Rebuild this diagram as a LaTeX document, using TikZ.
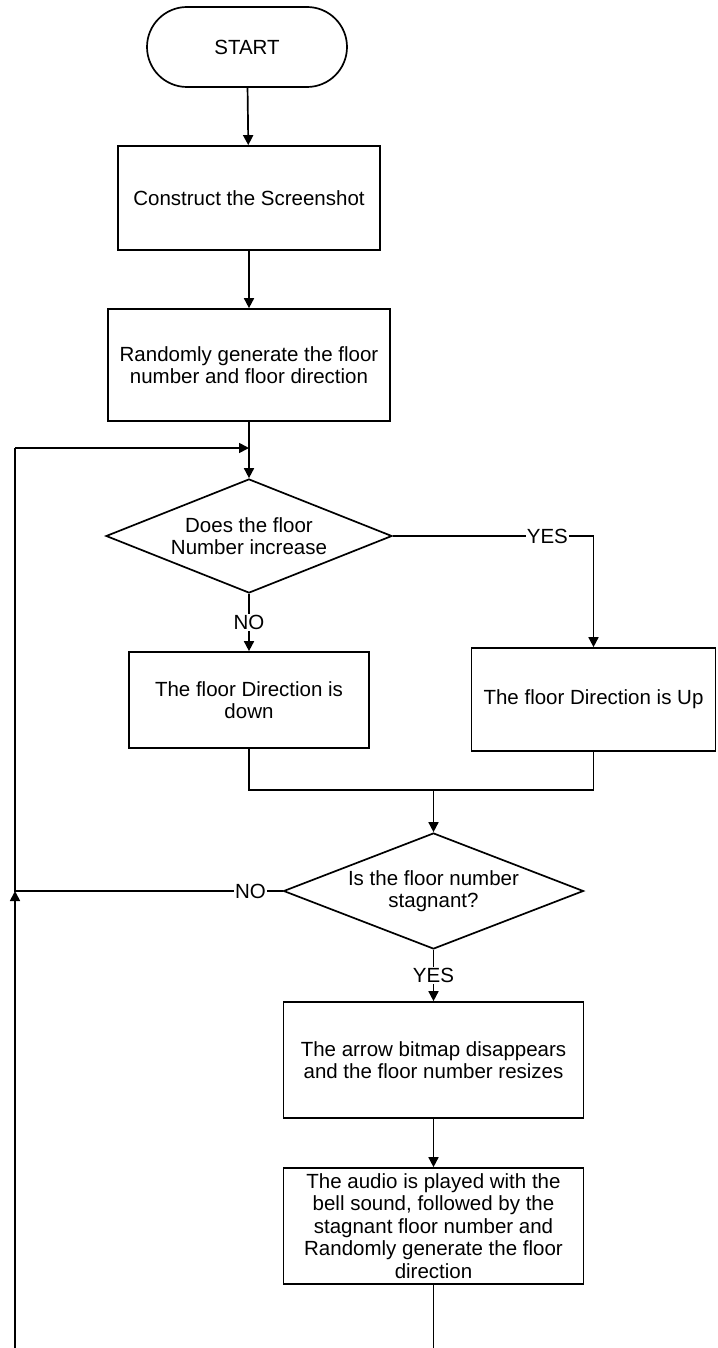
\documentclass[tikz,border=0pt]{standalone}
\usepackage{fontspec}
\setmainfont{Liberation Sans}
\usetikzlibrary{positioning,arrows.meta,shapes.geometric}

\tikzset{
  procbox/.style={draw,line width=1.7pt,align=center,inner sep=2pt},
  decision/.style={draw,diamond,aspect=2.5,line width=1.7pt,align=center,inner sep=0pt},
  flowline/.style={line width=1.7pt},
  arr/.style={flowline,-{Triangle[length=10pt,width=10pt]}},
  lbl/.style={fill=white,inner sep=1pt}
}

\begin{document}
\begin{tikzpicture}[x=1pt,y=1pt,font=\fontsize{20.5}{22.5}\selectfont]
\useasboundingbox (0,0) rectangle (717,-1348);

% main column
\node[draw,line width=1.7pt,rounded corners=40pt,minimum width=200pt,minimum height=80pt] (start) at (247,-47) {START};
\node[procbox,minimum width=262pt,minimum height=104pt] (scr) at (249,-198) {Construct the Screenshot};
\node[procbox,minimum width=282pt,minimum height=112pt] (gen) at (249,-365) {Randomly generate the floor\\number and floor direction};
\node[decision,minimum width=286pt,minimum height=114pt] (inc) at (249,-536) {Does the floor\\Number increase};
\node[procbox,minimum width=240pt,minimum height=96pt] (down) at (249,-700) {The floor Direction is\\down};
\node[procbox,minimum width=244pt,minimum height=103pt] (up) at (593.5,-699.5) {The floor Direction is Up};
\node[decision,minimum width=300pt,minimum height=116pt] (stag) at (433.5,-891) {Is the floor number\\stagnant?};
\node[procbox,minimum width=300pt,minimum height=116pt] (bmp) at (433.5,-1060) {The arrow bitmap disappears\\and the floor number resizes};
\node[procbox,minimum width=300pt,minimum height=116pt] (audio) at (433.5,-1226) {The audio is played with the\\bell sound, followed by the\\stagnant floor number and\\Randomly generate the floor\\direction};

% helper points
\coordinate (jn) at (249,-448);
\coordinate (lt) at (15,-448);
\coordinate (lb) at (15,-1348);
\coordinate (mrg) at (433.5,-790);

% connectors
\draw[arr] (start) -- (scr);
\draw[arr] (scr) -- (gen);
\draw[arr] (gen) -- (inc);
\draw[arr] (inc.east) -| node[pos=.385,lbl] {YES} (up.north);
\draw[arr] (inc.south) -- node[lbl] {NO} (down.north);
\draw[flowline] (down.south) |- (mrg);
\draw[flowline] (up.south) |- (mrg);
\draw[arr] (mrg) -- (stag.north);
\draw[arr] (stag.south) -- node[lbl] {YES} (bmp.north);
\draw[arr] (bmp) -- (audio);
\draw[flowline] (audio.south) -- (audio.south |- lb);

% loop back
\draw[flowline] (stag.west) -- node[pos=.12,lbl] {NO} (lb |- stag.west) -- (lt);
\draw[arr] (lb) -- (lb |- stag.west);
\draw[arr] (lt) -- (jn);
\end{tikzpicture}
\end{document}
